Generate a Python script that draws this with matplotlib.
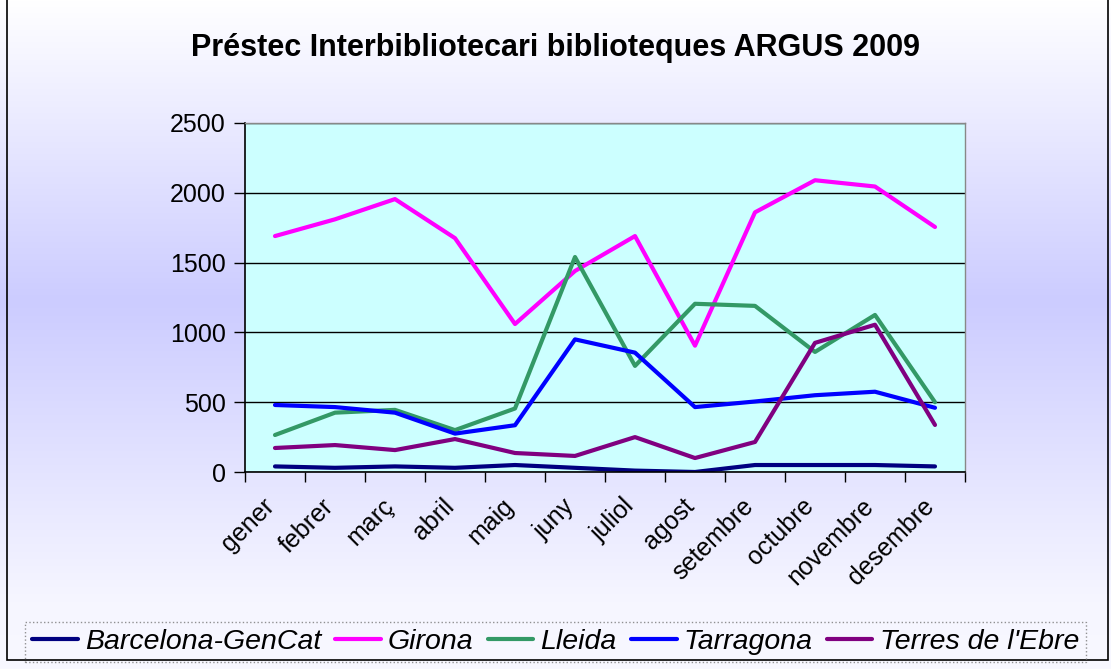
import numpy as np
import matplotlib.pyplot as plt
from matplotlib.patches import Rectangle

mesos = ["gener", "febrer", "març", "abril", "maig", "juny", "juliol",
         "agost", "setembre", "octubre", "novembre", "desembre"]

barcelona = [40, 30, 40, 30, 50, 30, 10, 0, 50, 50, 50, 40]
girona = [1690, 1810, 1955, 1675, 1060, 1440, 1690, 905, 1860, 2090, 2045, 1755]
lleida = [265, 425, 445, 300, 455, 1540, 760, 1205, 1190, 860, 1125, 500]
tarragona = [480, 465, 425, 275, 335, 950, 855, 465, 505, 550, 575, 460]
terres = [172, 193, 157, 236, 136, 115, 250, 100, 215, 925, 1055, 337]

series = [
    ("Barcelona-GenCat", barcelona, "#000080"),
    ("Girona", girona, "#FF00FF"),
    ("Lleida", lleida, "#339966"),
    ("Tarragona", tarragona, "#0000FF"),
    ("Terres de l'Ebre", terres, "#800080"),
]

plt.rcParams["font.family"] = ["Liberation Sans", "DejaVu Sans"]

fig = plt.figure(figsize=(11.11, 6.69), dpi=100)

# gradient background
bg = fig.add_axes([0, 0, 1, 1], zorder=-10)
stops_y = [0.0, 0.45, 0.9, 1.0]
stops_c = np.array([[255, 255, 255], [204, 204, 255], [246, 246, 255], [248, 248, 255]]) / 255
yy = np.linspace(0, 1, 400)
grad = np.stack([np.interp(yy, stops_y, stops_c[:, k]) for k in range(3)], axis=-1)
bg.imshow(grad[:, None, :], aspect="auto", extent=[0, 1, 1, 0])
bg.set_xlim(0, 1)
bg.set_ylim(1, 0)
bg.axis("off")
bg.add_patch(Rectangle((7 / 1111, -0.01), 1101 / 1111, 1.01 - 9 / 669,
                       fill=False, edgecolor="black", lw=1.2))

ax = fig.add_axes([245 / 1111, 1 - 472 / 669, 720 / 1111, 349 / 669])
ax.set_facecolor("#CCFFFF")

x = np.arange(len(mesos))
lines = []
for name, vals, col in series:
    ln, = ax.plot(x, vals, color=col, lw=3, label=name, solid_capstyle="round")
    lines.append(ln)

ax.set_xlim(-0.5, len(mesos) - 0.5)
ax.set_ylim(0, 2500)
ax.set_yticks(np.arange(0, 2501, 500))
ax.yaxis.grid(True, color="black", lw=1)
ax.set_axisbelow(True)

ax.set_xticks(np.arange(-0.5, len(mesos), 1))
ax.set_xticklabels([])
ax.set_xticks(x - 0.08, minor=True)
ax.set_xticklabels(mesos, minor=True, rotation=45, ha="right", va="center",
                   rotation_mode="anchor", fontsize=18)
ax.tick_params(axis="x", which="minor", length=0, pad=22)
ax.tick_params(axis="x", which="major", length=7, width=1, color="black")
ax.tick_params(axis="y", length=8, width=1, labelsize=18, pad=6)

for s in ["left", "bottom"]:
    ax.spines[s].set_color("black")
    ax.spines[s].set_linewidth(1.2)
for s in ["top", "right"]:
    ax.spines[s].set_color("#888888")
    ax.spines[s].set_linewidth(1)

fig.text(0.5, 1 - 48 / 669, "Préstec Interbibliotecari biblioteques ARGUS 2009",
         ha="center", va="center", fontsize=22, fontweight="bold")

leg = fig.legend(handles=lines, loc="center", ncol=5,
                 bbox_to_anchor=(0.5, 1 - 642 / 669),
                 prop={"style": "italic", "size": 20.5},
                 handlelength=1.6, handletextpad=0.25, columnspacing=0.5,
                 frameon=True, fancybox=False, borderpad=0.25)
fr = leg.get_frame()
fr.set_edgecolor("#777777")
fr.set_linestyle(":")
fr.set_facecolor("none")

fig.savefig("out.png", dpi=100)
